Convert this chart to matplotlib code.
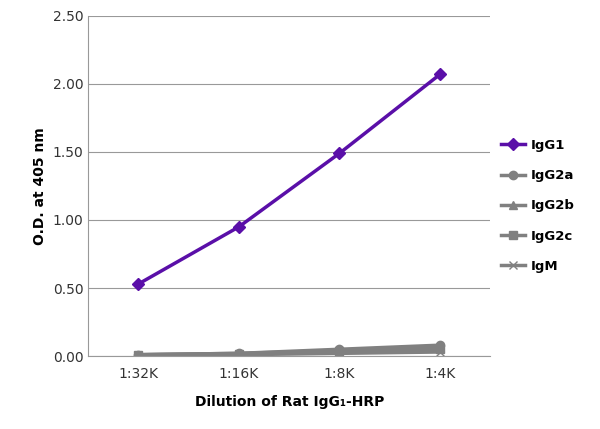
import matplotlib
matplotlib.use("Agg")
import matplotlib.pyplot as plt

categories = ["1:32K", "1:16K", "1:8K", "1:4K"]
igg1 = [0.53, 0.95, 1.49, 2.07]
igg2a = [0.01, 0.02, 0.05, 0.08]
igg2b = [0.01, 0.02, 0.04, 0.06]
igg2c = [0.01, 0.015, 0.04, 0.05]
igm = [0.01, 0.01, 0.02, 0.03]
yticks = [0.0, 0.5, 1.0, 1.5, 2.0, 2.5]

fig = plt.figure(figsize=(6, 4.29), dpi=100)
ax = fig.add_axes([0.147, 0.170, 0.67, 0.793])
x = range(len(categories))
gray = "#808080"
ax.plot(x, igm, color=gray, marker="x", ms=6, lw=2.5, label="IgM", zorder=2)
ax.plot(x, igg2c, color=gray, marker="s", ms=6, lw=2.5, label="IgG2c", zorder=2)
ax.plot(x, igg2b, color=gray, marker="^", ms=6, lw=2.5, label="IgG2b", zorder=2)
ax.plot(x, igg2a, color=gray, marker="o", ms=6, lw=2.5, label="IgG2a", zorder=2)
ax.plot(x, igg1, color="#5a0fa8", marker="D", ms=6, lw=2.5, label="IgG1", zorder=3)

ax.set_xlim(-0.5, 3.5)
ax.set_ylim(0, 2.5)
ax.set_yticks(yticks)
ax.set_yticklabels([f"{v:.2f}" for v in yticks])
ax.set_xticks(list(x))
ax.set_xticklabels(categories)
ax.yaxis.grid(True, color="#999999", lw=0.8)
ax.set_axisbelow(True)
for s in ["top", "right"]:
    ax.spines[s].set_visible(False)
ax.spines["left"].set_color("#999999")
ax.spines["bottom"].set_color("#999999")
ax.tick_params(axis="y", length=0, labelsize=10, colors="#333333")
ax.tick_params(axis="x", length=0, labelsize=10, colors="#333333", pad=8)
ax.set_ylabel("O.D. at 405 nm", fontweight="bold", fontsize=10)
ax.set_xlabel("Dilution of Rat IgG\u2081-HRP", fontweight="bold", fontsize=10, labelpad=10)

h, l = ax.get_legend_handles_labels()
leg = fig.legend(h[::-1], l[::-1], loc="center left", bbox_to_anchor=(0.815, 0.52),
                 frameon=False, labelspacing=1.3, handlelength=1.8, handletextpad=0.5,
                 fontsize=9.5)
for t in leg.get_texts():
    t.set_fontweight("bold")
fig.savefig("out.png", dpi=100)
